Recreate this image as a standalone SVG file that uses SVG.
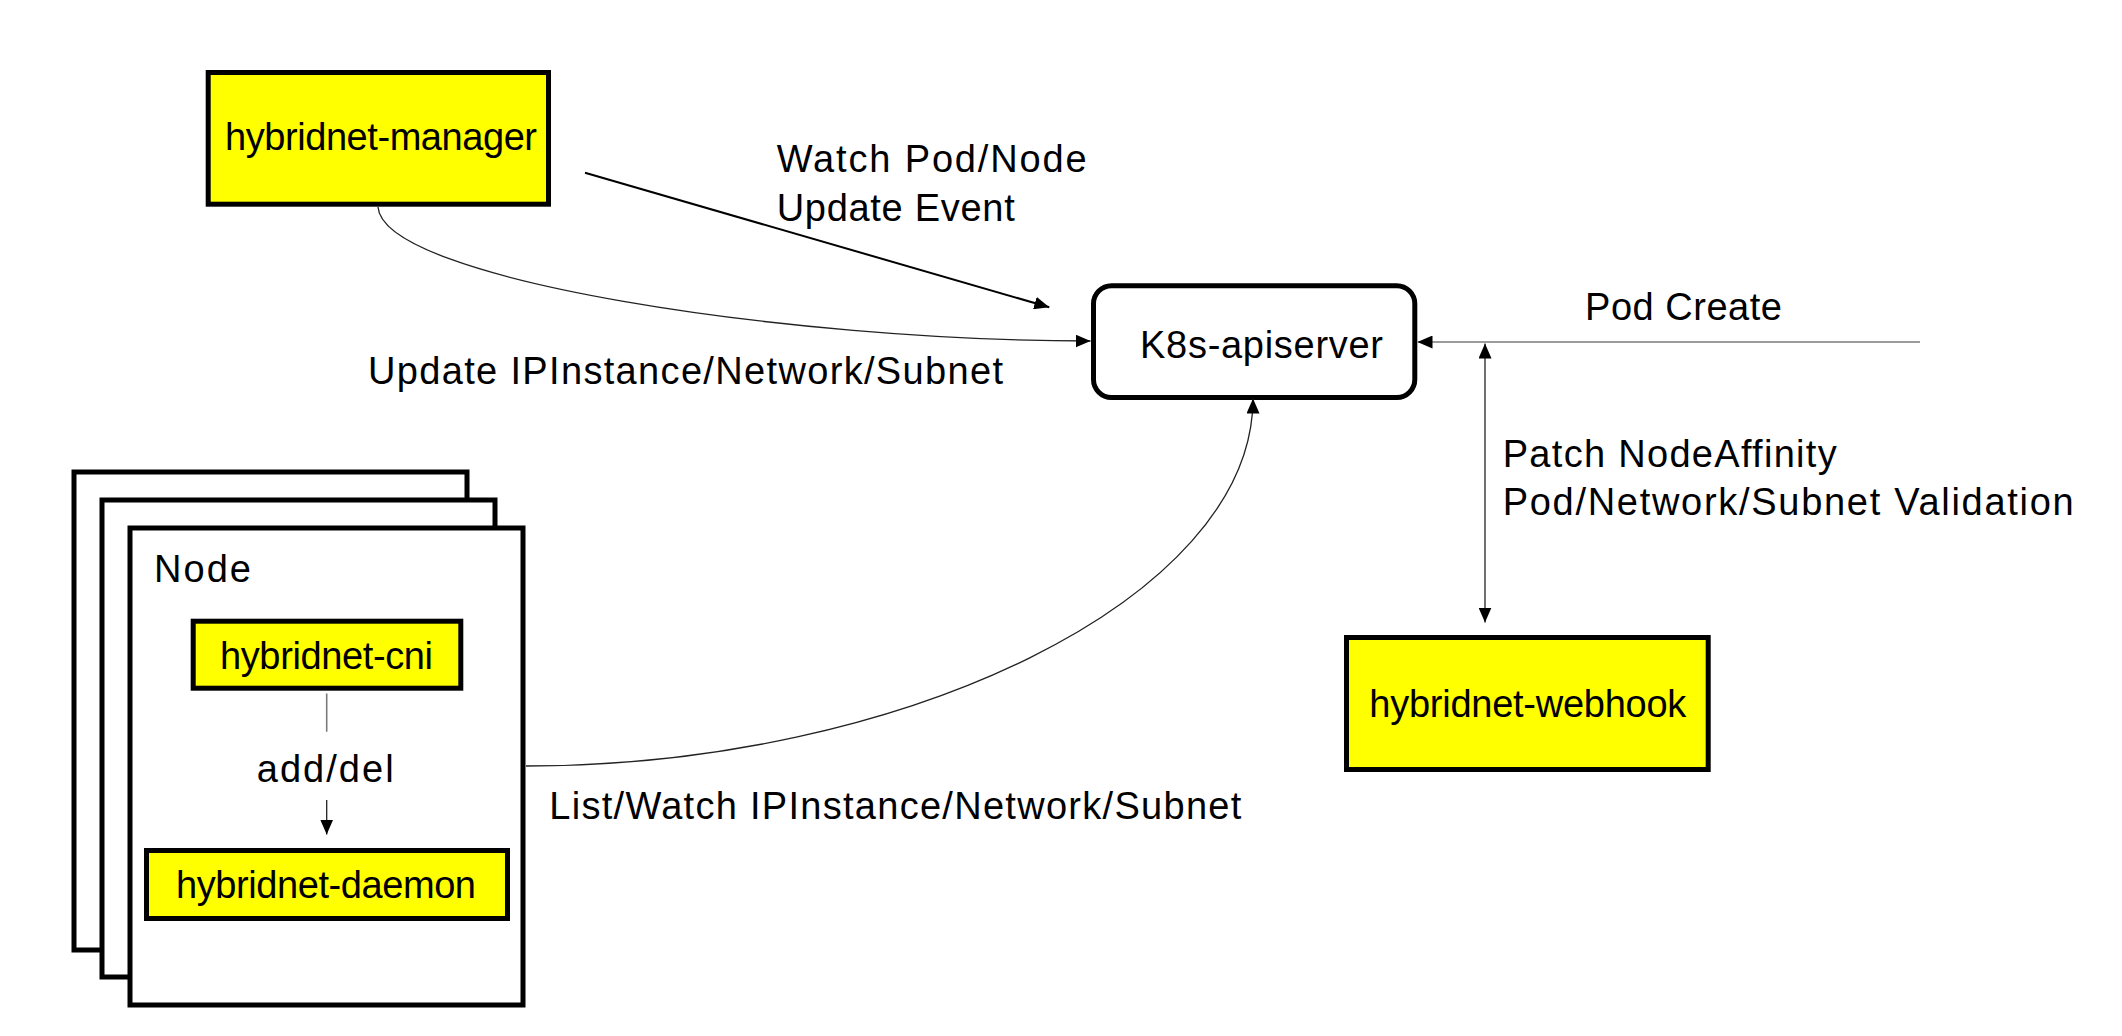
<svg xmlns="http://www.w3.org/2000/svg" width="2122" height="1036" viewBox="0 0 2122 1036">
  <defs>
    <marker id="arr" markerUnits="userSpaceOnUse" markerWidth="15" markerHeight="13" viewBox="0 0 15 13" refX="15" refY="6.5" orient="auto-start-reverse">
      <path d="M0,0 L15,6.5 L0,13 z" fill="#000"/>
    </marker>
  </defs>
  <style>
    text { font-family: "Liberation Sans", Arial, sans-serif; font-size: 38px; fill: #000; }
    .box { fill: #ffff00; stroke: #000; stroke-width: 5; }
    .frame { fill: #fff; stroke: #000; stroke-width: 5; }
    .thin { fill: none; stroke: #222; stroke-width: 1.3; }
    .gray { fill: none; stroke: #7a7a7a; stroke-width: 1.6; }
  </style>
  <rect width="2122" height="1036" fill="#fff"/>

  <g id="node-stack">
    <rect class="frame" x="74" y="472" width="393" height="478"/>
    <rect class="frame" x="102" y="500" width="393" height="477"/>
    <rect class="frame" x="130" y="528" width="393" height="477"/>
    <text x="154" y="582" textLength="97">Node</text>
  </g>

  <g id="hybridnet-manager">
    <rect class="box" x="208.2" y="72.5" width="340.3" height="131.7"/>
    <text x="225" y="150" textLength="312">hybridnet-manager</text>
  </g>

  <g id="k8s-apiserver">
    <rect x="1093.5" y="285.8" width="321.3" height="111.7" rx="18" ry="18" fill="#fff" stroke="#000" stroke-width="5"/>
    <text x="1140" y="358.3" textLength="243">K8s-apiserver</text>
  </g>

  <g id="hybridnet-webhook">
    <rect class="box" x="1346.5" y="637.5" width="361.7" height="132"/>
    <text x="1369.3" y="716.7" textLength="317">hybridnet-webhook</text>
  </g>

  <g id="hybridnet-cni">
    <rect class="box" x="193.2" y="621.2" width="267.6" height="67"/>
    <text x="220" y="669.3" textLength="213">hybridnet-cni</text>
  </g>

  <g id="hybridnet-daemon">
    <rect class="box" x="146.5" y="850.5" width="361" height="68"/>
    <text x="176" y="898.3" textLength="300">hybridnet-daemon</text>
  </g>

  <g id="connectors">
    <line x1="585" y1="172.7" x2="1049.3" y2="307.3" stroke="#000" stroke-width="2" marker-end="url(#arr)"/>
    <path class="thin" d="M378,207 C383,280 790,341 1090.5,341" marker-end="url(#arr)"/>
    <line class="gray" x1="1920" y1="342" x2="1417.5" y2="342" marker-end="url(#arr)"/>
    <line class="thin" x1="1485" y1="343.5" x2="1485" y2="622.5" marker-start="url(#arr)" marker-end="url(#arr)"/>
    <path class="thin" d="M526,766 C900,766 1253,600 1253,398.5" marker-end="url(#arr)"/>
    <line class="gray" x1="326.7" y1="693.5" x2="326.7" y2="731.7" stroke-width="1.2"/>
    <line class="thin" x1="326.7" y1="800" x2="326.7" y2="834.5" marker-end="url(#arr)"/>
  </g>

  <g id="labels">
    <text x="776.7" y="171.7" textLength="310">Watch Pod/Node</text>
    <text x="776.7" y="220.7" textLength="238">Update Event</text>
    <text x="368" y="384" textLength="635">Update IPInstance/Network/Subnet</text>
    <text x="1585" y="320" textLength="197">Pod Create</text>
    <text x="1502.7" y="466.7" textLength="334">Patch NodeAffinity</text>
    <text x="1502.7" y="515" textLength="571">Pod/Network/Subnet Validation</text>
    <text x="256.7" y="781.7" textLength="137">add/del</text>
    <text x="549.3" y="819" textLength="692">List/Watch IPInstance/Network/Subnet</text>
  </g>
</svg>
